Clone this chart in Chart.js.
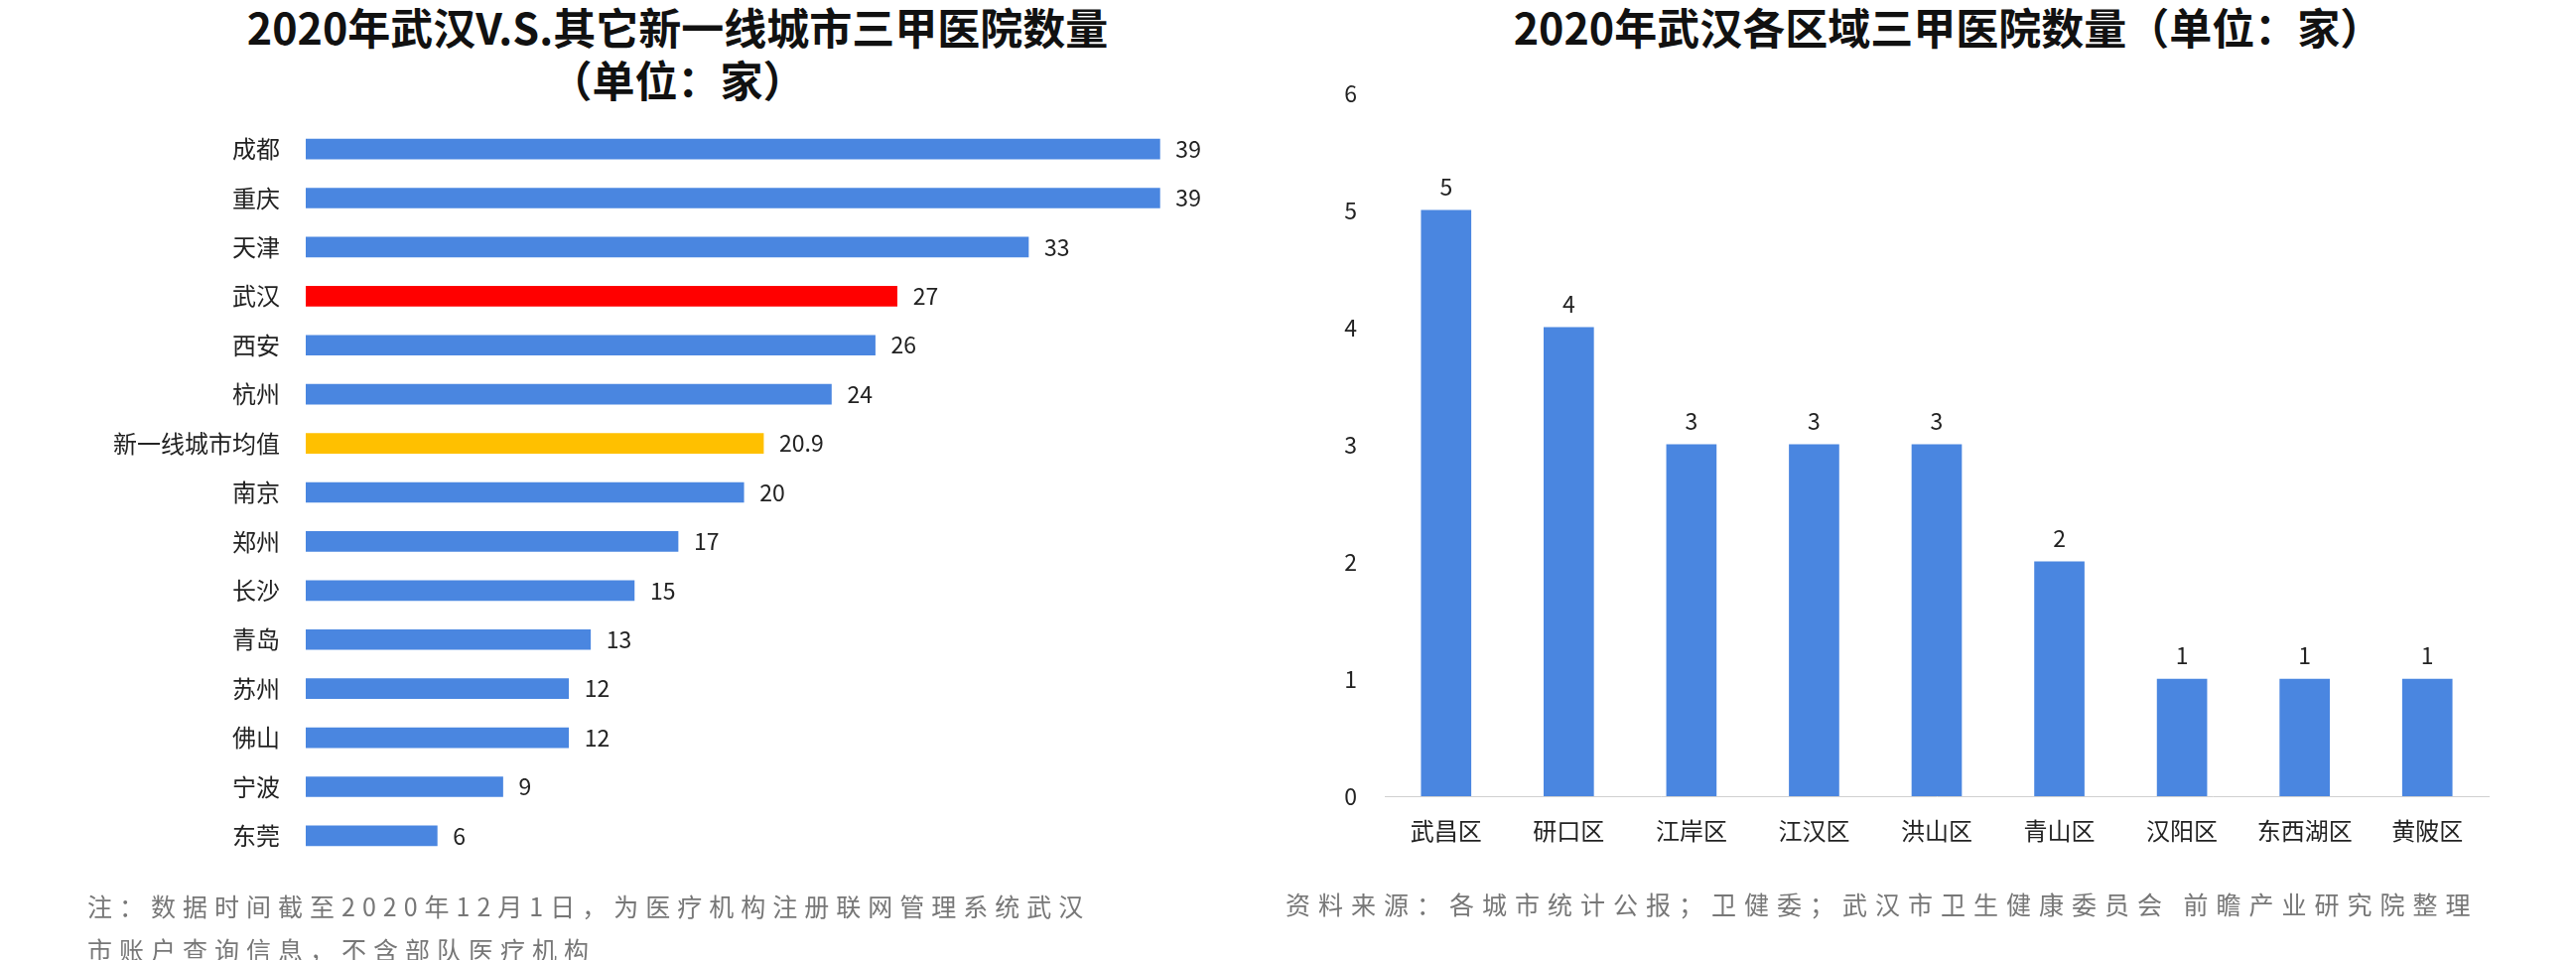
<!DOCTYPE html>
<html><head><meta charset="utf-8">
<script src="https://cdn.jsdelivr.net/npm/chart.js@4"></script>
<style>
body{margin:0;width:2595px;height:967px;background:#fff;position:relative;overflow:hidden;font-family:"Noto Sans CJK SC",sans-serif}
.t{position:absolute;font-weight:bold;font-size:43px;color:#111;text-align:center;line-height:53px}
.n{position:absolute;font-size:25px;color:#777;letter-spacing:7px;line-height:44px}
canvas{position:absolute}
</style></head><body>
<div class="t" style="left:0;width:1365px;top:0px">2020年武汉V.S.其它新一线城市三甲医院数量<br>（单位：家）</div>
<div class="t" style="left:1330px;width:1265px;top:0px">2020年武汉各区域三甲医院数量（单位：家）</div>
<div id="w1" style="position:absolute;left:0;top:93px;width:1300px;height:806px"><canvas id="c1"></canvas></div>
<div id="w2" style="position:absolute;left:1300px;top:60px;width:1295px;height:810px"><canvas id="c2"></canvas></div>
<div class="n" style="left:88px;top:890px;width:1040px">注：数据时间截至2020年12月1日，为医疗机构注册联网管理系统武汉市账户查询信息，不含部队医疗机构</div>
<div class="n" style="left:1295px;top:888px;white-space:nowrap;letter-spacing:8px">资料来源：各城市统计公报；卫健委；武汉市卫生健康委员会 前瞻产业研究院整理</div>
<script>
const cities = ['成都','重庆','天津','武汉','西安','杭州','新一线城市均值','南京','郑州','长沙','青岛','苏州','佛山','宁波','东莞'];
const cityValues = [39,39,33,27,26,24,20.9,20,17,15,13,12,12,9,6];
const districts = ['武昌区','研口区','江岸区','江汉区','洪山区','青山区','汉阳区','东西湖区','黄陂区'];
const districtValues = [5,4,3,3,3,2,1,1,1];
const blue = '#4a86e0';
const font = {family:'"Noto Sans CJK SC", sans-serif', size:24};

const labelPlugin = {
  id:'labels',
  afterDatasetsDraw(chart){
    const ctx = chart.ctx, horiz = chart.options.indexAxis === 'y';
    chart.getDatasetMeta(0).data.forEach((el,i)=>{
      ctx.save();
      ctx.fillStyle='#222';
      ctx.font='23px "Noto Sans CJK SC", sans-serif';
      const v = chart.data.datasets[0].data[i];
      if(horiz){ctx.textAlign='left';ctx.textBaseline='middle';ctx.fillText(v, el.x+16, el.y);}
      else{ctx.textAlign='center';ctx.textBaseline='bottom';ctx.fillText(v, el.x, el.y-12);}
      ctx.restore();
    });
  }
};

new Chart(document.getElementById('c1'), {
  type:'bar',
  data:{labels:cities, datasets:[{data:cityValues, barThickness:20,
    backgroundColor:cities.map(c=>c==='武汉'?'#ff0000':c==='新一线城市均值'?'#ffc000':blue)}]},
  options:{indexAxis:'y', responsive:true, maintainAspectRatio:false, animation:false,
    layout:{padding:{right:50}},
    plugins:{legend:{display:false}, tooltip:{enabled:false}},
    scales:{
      x:{display:false, min:0, max:42.7},
      y:{grid:{display:false}, border:{display:false}, ticks:{color:'#222', font, padding:18},
         afterFit(s){s.width=308;}}
    }},
  plugins:[labelPlugin]
});

new Chart(document.getElementById('c2'), {
  type:'bar',
  data:{labels:districts, datasets:[{data:districtValues, backgroundColor:blue, barThickness:50}]},
  options:{responsive:true, maintainAspectRatio:false, animation:false,
    layout:{padding:{top:33, right:88}},
    plugins:{legend:{display:false}, tooltip:{enabled:false}},
    scales:{
      x:{grid:{display:false}, border:{color:'#d0d0d0'}, ticks:{color:'#222', font, padding:12},
         afterFit(s){s.height=68;}},
      y:{min:0, max:6, grid:{display:false}, border:{display:false},
         ticks:{stepSize:1, color:'#222', font:{...font,size:23}, padding:20},
         afterFit(s){s.width=95;}}
    }},
  plugins:[labelPlugin]
});
</script>
</body></html>
